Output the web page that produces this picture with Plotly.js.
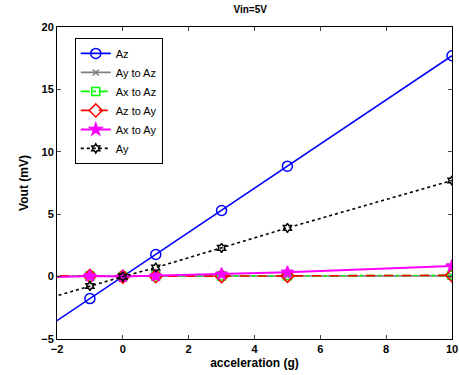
<!DOCTYPE html>
<html>
<head>
<meta charset="utf-8">
<script src="https://cdn.plot.ly/plotly-3.0.1.min.js"></script>
<style>html,body{margin:0;padding:0;background:#fff;}#chart{width:459px;height:375px;}</style>
</head>
<body>
<div id="chart"></div>
<script>
const accel = [-3, -1, 0, 1, 3, 5, 10];
const az = [-5.3, -1.76, 0, 1.77, 5.3, 8.85, 17.7];
const ayToAz = [0.02, 0.02, 0, 0.02, 0.03, 0.04, 0.06];
const axToAz = [0.05, 0.05, 0, 0.04, 0.05, 0.06, 0.1];
const azToAy = [0.08, 0.06, 0, 0.03, 0.04, 0.06, 0.1];
const axToAy = [-0.1, 0.05, 0, 0.06, 0.2, 0.35, 0.85];
const ay = [-2.3, -0.75, 0, 0.72, 2.3, 3.9, 7.7];

const seriesNames = ['Az', 'Ay to Az', 'Ax to Az', 'Az to Ay', 'Ax to Ay', 'Ay'];
const seriesData = [az, ayToAz, axToAz, azToAy, axToAy, ay];
const colors = ['#0000ff', '#808080', '#00ff00', '#ff0000', '#ff00ff', '#000000'];
const dashes = ['solid', 'solid', 'dashdot', 'dash', 'solid', 'dot'];
const symbols = ['circle-open', 'x-thin-open', 'square-open', 'diamond-open', 'star', 'hexagram-open'];
const sizes = [10, 6, 8, 10, 9, 7];
const widths = [1.6, 1.6, 1.6, 1.6, 2, 1.6];

const traces = seriesNames.map((n, i) => ({
  x: accel, y: seriesData[i], name: n, type: 'scatter', mode: 'lines+markers',
  line: {color: colors[i], dash: dashes[i], width: widths[i]},
  marker: {symbol: symbols[i], size: sizes[i], color: colors[i], line: {color: colors[i], width: 1.5}}
}));

const font = {family: 'Liberation Sans, Arial, sans-serif', size: 11, color: '#000'};
const layout = {
  width: 459, height: 375,
  margin: {l: 57, r: 7, t: 27, b: 36},
  paper_bgcolor: '#fff', plot_bgcolor: '#fff',
  font: font,
  title: {text: 'Vin=5V', font: {family: font.family, size: 10, weight: 'bold', color: '#000'}, x: 0.545, xanchor: 'center', y: 0.985, yanchor: 'top'},
  showlegend: true,
  legend: {x: 0.045, y: 0.965, xanchor: 'left', yanchor: 'top', bgcolor: '#fff', bordercolor: '#000', borderwidth: 1,
    font: {family: font.family, size: 11, color: '#000'}, tracegroupgap: 0, itemwidth: 30},
  xaxis: {range: [-2, 10], tickvals: [-2, 0, 2, 4, 6, 8, 10], ticks: 'inside', ticklen: 4, mirror: 'ticks',
    showline: true, linecolor: '#000', linewidth: 1, showgrid: false, zeroline: false,
    tickfont: {family: font.family, size: 11, weight: 'bold'},
    title: {text: 'acceleration (g)', font: {family: font.family, size: 12, weight: 'bold'}, standoff: 4}},
  yaxis: {range: [-5, 20], tickvals: [-5, 0, 5, 10, 15, 20], ticks: 'inside', ticklen: 4, mirror: 'ticks',
    showline: true, linecolor: '#000', linewidth: 1, showgrid: false, zeroline: false,
    tickfont: {family: font.family, size: 11, weight: 'bold'},
    title: {text: 'Vout (mV)', font: {family: font.family, size: 12, weight: 'bold'}, standoff: 10}}
};
Plotly.newPlot('chart', traces, layout, {displayModeBar: false, staticPlot: true});
</script>
</body>
</html>
